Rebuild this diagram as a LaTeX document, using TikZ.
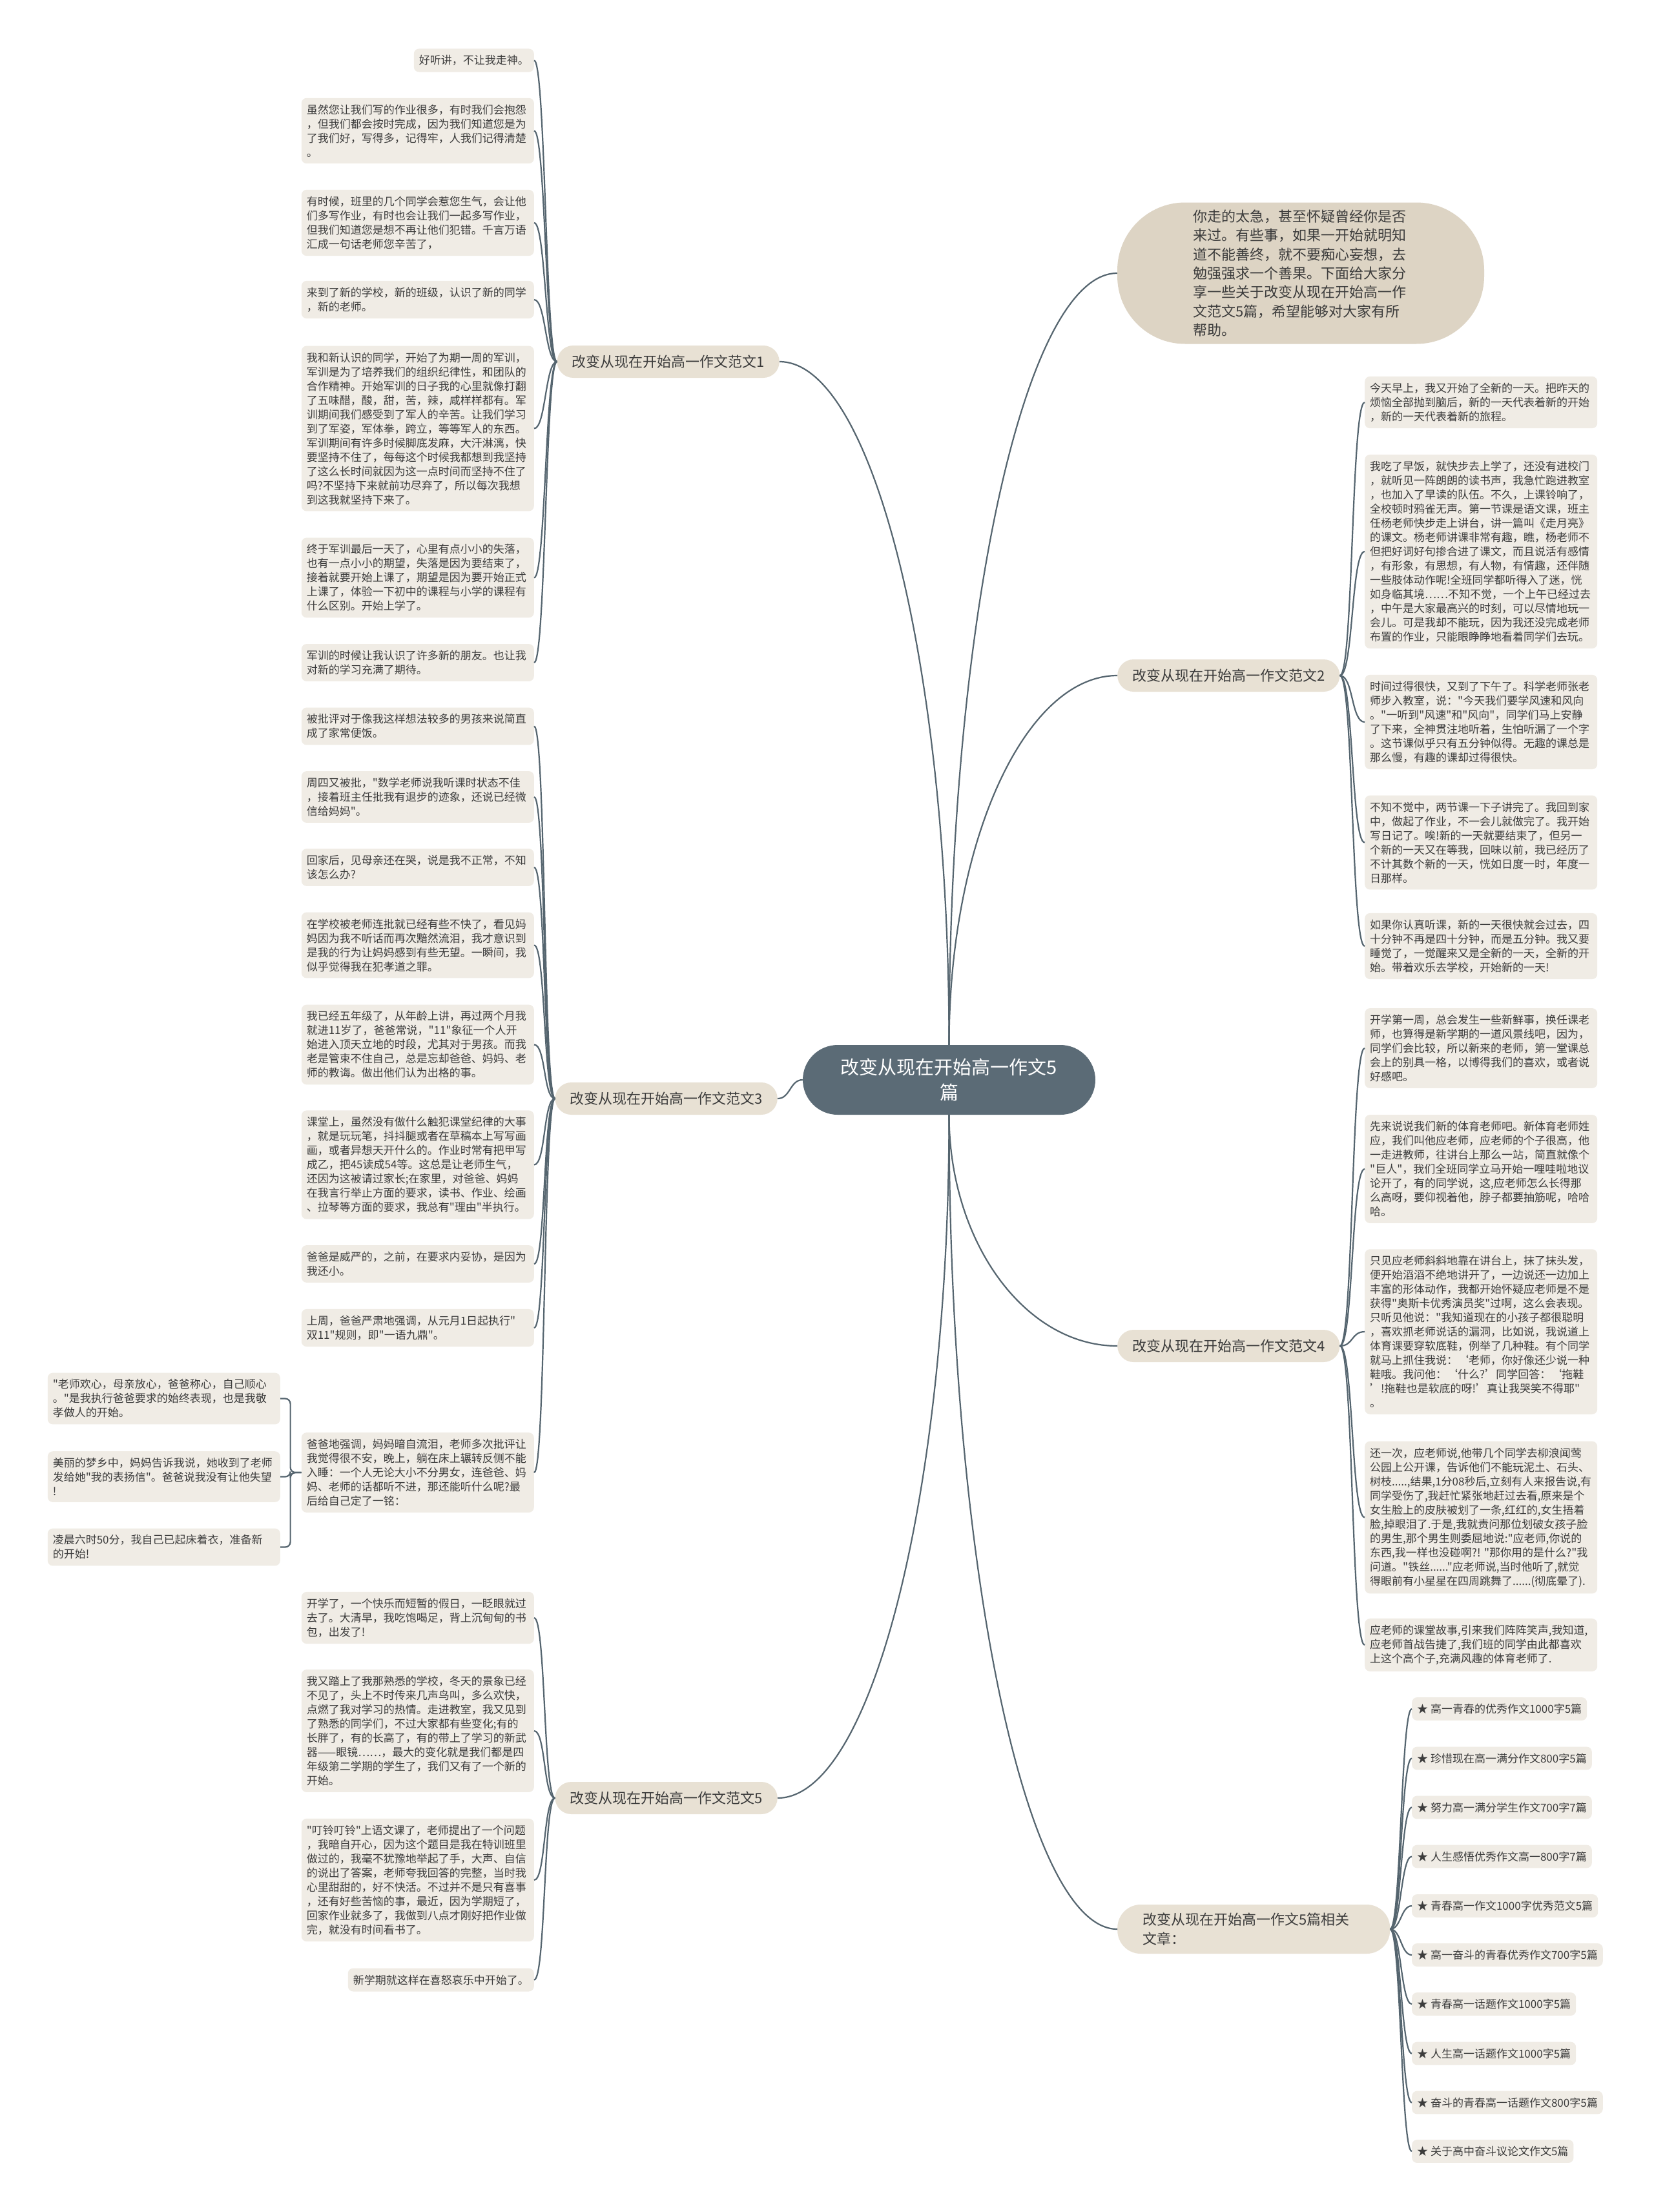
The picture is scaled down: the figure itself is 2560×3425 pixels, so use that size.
\documentclass[tikz,border=0pt]{standalone}
\usepackage{fontspec}
\setmainfont{Noto Sans CJK SC}[Ligatures=TeXOff]
\definecolor{linkgray}{HTML}{55656F}
\definecolor{rootfill}{HTML}{5B6B76}
\definecolor{topicfill}{HTML}{E8E1D4}
\definecolor{introfill}{HTML}{DDD4C4}
\definecolor{leaffill}{HTML}{F0ECE5}
\definecolor{inktext}{HTML}{3C3C3C}
\tikzset{
  link/.style={draw=linkgray, line width=2.2pt},
  twig/.style={link, rounded corners=8pt},
  leafbase/.style={fill=leaffill, rounded corners=8pt, inner xsep=8pt, inner ysep=10pt,
    text=inktext, align=left, font=\fontsize{17}{22}\selectfont},
  leaf/.style={leafbase, text width=344pt},
  tag/.style={leafbase},
  topic/.style={fill=topicfill, rounded corners=25pt, minimum height=50pt, inner xsep=23pt,
    text=inktext, font=\fontsize{22}{30}\selectfont},
  root/.style={fill=rootfill, rounded corners=54pt, minimum width=453pt, minimum height=108pt,
    align=center, text=white, font=\fontsize{29}{39}\selectfont},
  intro/.style={fill=introfill, rounded corners=105pt, minimum width=568pt, minimum height=219pt,
    text width=334pt, align=left, text=inktext, font=\fontsize{22}{29.4}\selectfont}
}
\begin{document}
\begin{tikzpicture}[x=1pt,y=-1pt]
  \useasboundingbox (0,0) rectangle (2560,3425);
  \fill[white] (0,0) rectangle (2560,3425);

  % root and main topics
  \node[root] (root) at (1469.5,1672) {改变从现在开始高一作文5\\篇};
  \node[intro] (intro) at (2014,423) {你走的太急，甚至怀疑曾经你是否\\来过。有些事，如果一开始就明知\\道不能善终，就不要痴心妄想，去\\勉强强求一个善果。下面给大家分\\享一些关于改变从现在开始高一作\\文范文5篇，希望能够对大家有所\\帮助。};
  \node[topic, anchor=east] (br1) at (1207,560) {改变从现在开始高一作文范文1};
  \node[topic, anchor=west] (br2) at (1730,1046) {改变从现在开始高一作文范文2};
  \node[topic, anchor=east] (br3) at (1204,1701) {改变从现在开始高一作文范文3};
  \node[topic, anchor=west] (br4) at (1730,2084) {改变从现在开始高一作文范文4};
  \node[topic, anchor=east] (br5) at (1204,2784) {改变从现在开始高一作文范文5};
  \node[topic, anchor=west, text width=344pt, align=left, inner xsep=39pt, minimum height=76pt,
    rounded corners=36pt] (br6) at (1730,2987) {改变从现在开始高一作文5篇相关\\文章：};

  \draw[link] (root.north) .. controls +(0,-660) and +(-143,0) .. (intro.west);
  \draw[link] (root.north) .. controls +(0,-580) and +(145,0) .. (br1.east);
  \draw[link] (root.north) .. controls +(0,-315) and +(-143,0) .. (br2.west);
  \draw[link] (root.west) .. controls +(-20,0) and +(20,0) .. (br3.east);
  \draw[link] (root.south) .. controls +(0,197) and +(-143,0) .. (br4.west);
  \draw[link] (root.south) .. controls +(0,580) and +(147,0) .. (br5.east);
  \draw[link] (root.south) .. controls +(0,690) and +(-143,0) .. (br6.west);

  % topic 1
  \node[tag, anchor=east] (b1a) at (827,93.5) {好听讲，不让我走神。};
  \node[leaf, anchor=east] (b1b) at (827,202.5) {虽然您让我们写的作业很多，有时我们会抱怨\\，但我们都会按时完成，因为我们知道您是为\\了我们好，写得多，记得牢，人我们记得清楚\\。};
  \node[leaf, anchor=east] (b1c) at (827,345) {有时候，班里的几个同学会惹您生气，会让他\\们多写作业，有时也会让我们一起多写作业，\\但我们知道您是想不再让他们犯错。千言万语\\汇成一句话老师您辛苦了，};
  \node[leaf, anchor=east] (b1d) at (827,464) {来到了新的学校，新的班级，认识了新的同学\\，新的老师。};
  \node[leaf, anchor=east] (b1e) at (827,663.5) {我和新认识的同学，开始了为期一周的军训，\\军训是为了培养我们的组织纪律性，和团队的\\合作精神。开始军训的日子我的心里就像打翻\\了五味醋，酸，甜，苦，辣，咸样样都有。军\\训期间我们感受到了军人的辛苦。让我们学习\\到了军姿，军体拳，跨立，等等军人的东西。\\军训期间有许多时候脚底发麻，大汗淋漓，快\\要坚持不住了，每每这个时候我都想到我坚持\\了这么长时间就因为这一点时间而坚持不住了\\吗?不坚持下来就前功尽弃了，所以每次我想\\到这我就坚持下来了。};
  \node[leaf, anchor=east] (b1f) at (827,894.5) {终于军训最后一天了，心里有点小小的失落，\\也有一点小小的期望，失落是因为要结束了，\\接着就要开始上课了，期望是因为要开始正式\\上课了，体验一下初中的课程与小学的课程有\\什么区别。开始上学了。};
  \node[leaf, anchor=east] (b1g) at (827,1026) {军训的时候让我认识了许多新的朋友。也让我\\对新的学习充满了期待。};
  \draw[link] (br1.west) .. controls +(-18,0) and +(18,0) .. (b1a.east);
  \draw[link] (br1.west) .. controls +(-18,0) and +(18,0) .. (b1b.east);
  \draw[link] (br1.west) .. controls +(-18,0) and +(18,0) .. (b1c.east);
  \draw[link] (br1.west) .. controls +(-18,0) and +(18,0) .. (b1d.east);
  \draw[link] (br1.west) .. controls +(-18,0) and +(18,0) .. (b1e.east);
  \draw[link] (br1.west) .. controls +(-18,0) and +(18,0) .. (b1f.east);
  \draw[link] (br1.west) .. controls +(-18,0) and +(18,0) .. (b1g.east);

  % topic 3
  \node[leaf, anchor=east] (b3a) at (827,1124.5) {被批评对于像我这样想法较多的男孩来说简直\\成了家常便饭。};
  \node[leaf, anchor=east] (b3b) at (827,1234) {周四又被批，"数学老师说我听课时状态不佳\\，接着班主任批我有退步的迹象，还说已经微\\信给妈妈"。};
  \node[leaf, anchor=east] (b3c) at (827,1343) {回家后，见母亲还在哭，说是我不正常，不知\\该怎么办?};
  \node[leaf, anchor=east] (b3d) at (827,1463.5) {在学校被老师连批就已经有些不快了，看见妈\\妈因为我不听话而再次黯然流泪，我才意识到\\是我的行为让妈妈感到有些无望。一瞬间，我\\似乎觉得我在犯孝道之罪。};
  \node[leaf, anchor=east] (b3e) at (827,1617.5) {我已经五年级了，从年龄上讲，再过两个月我\\就进11岁了，爸爸常说，"11"象征一个人开\\始进入顶天立地的时段，尤其对于男孩。而我\\老是管束不住自己，总是忘却爸爸、妈妈、老\\师的教诲。做出他们认为出格的事。};
  \node[leaf, anchor=east] (b3f) at (827,1803.5) {课堂上，虽然没有做什么触犯课堂纪律的大事\\，就是玩玩笔，抖抖腿或者在草稿本上写写画\\画，或者异想天开什么的。作业时常有把甲写\\成乙，把45读成54等。这总是让老师生气，\\还因为这被请过家长;在家里，对爸爸、妈妈\\在我言行举止方面的要求，读书、作业、绘画\\、拉琴等方面的要求，我总有"理由"半执行。};
  \node[leaf, anchor=east] (b3g) at (827,1957) {爸爸是威严的，之前，在要求内妥协，是因为\\我还小。};
  \node[leaf, anchor=east] (b3h) at (827,2056) {上周，爸爸严肃地强调，从元月1日起执行"\\双11"规则，即"一语九鼎"。};
  \node[leaf, anchor=east] (b3i) at (827,2280) {爸爸地强调，妈妈暗自流泪，老师多次批评让\\我觉得很不安，晚上，躺在床上辗转反侧不能\\入睡：一个人无论大小不分男女，连爸爸、妈\\妈、老师的话都听不进，那还能听什么呢?最\\后给自己定了一铭：};
  \node[leaf, anchor=east] (b3i1) at (434,2165.5) {"老师欢心，母亲放心，爸爸称心，自己顺心\\。"是我执行爸爸要求的始终表现，也是我敬\\孝做人的开始。};
  \node[leaf, anchor=east] (b3i2) at (434,2286.5) {美丽的梦乡中，妈妈告诉我说，她收到了老师\\发给她"我的表扬信"。爸爸说我没有让他失望\\!};
  \node[leaf, anchor=east] (b3i3) at (434,2395.5) {凌晨六时50分，我自己已起床着衣，准备新\\的开始!};
  \draw[link] (br3.west) .. controls +(-18,0) and +(18,0) .. (b3a.east);
  \draw[link] (br3.west) .. controls +(-18,0) and +(18,0) .. (b3b.east);
  \draw[link] (br3.west) .. controls +(-18,0) and +(18,0) .. (b3c.east);
  \draw[link] (br3.west) .. controls +(-18,0) and +(18,0) .. (b3d.east);
  \draw[link] (br3.west) .. controls +(-18,0) and +(18,0) .. (b3e.east);
  \draw[link] (br3.west) .. controls +(-18,0) and +(18,0) .. (b3f.east);
  \draw[link] (br3.west) .. controls +(-18,0) and +(18,0) .. (b3g.east);
  \draw[link] (br3.west) .. controls +(-18,0) and +(18,0) .. (b3h.east);
  \draw[link] (br3.west) .. controls +(-18,0) and +(18,0) .. (b3i.east);
  \draw[twig] (b3i.west) -- ++(-17,0) |- (b3i1.east);
  \draw[twig] (b3i.west) -- ++(-17,0) |- (b3i2.east);
  \draw[twig] (b3i.west) -- ++(-17,0) |- (b3i3.east);

  % topic 5
  \node[leaf, anchor=east] (b5a) at (827,2505) {开学了，一个快乐而短暂的假日，一眨眼就过\\去了。大清早，我吃饱喝足，背上沉甸甸的书\\包，出发了!};
  \node[leaf, anchor=east] (b5b) at (827,2680) {我又踏上了我那熟悉的学校，冬天的景象已经\\不见了，头上不时传来几声鸟叫，多么欢快，\\点燃了我对学习的热情。走进教室，我又见到\\了熟悉的同学们，不过大家都有些变化;有的\\长胖了，有的长高了，有的带上了学习的新武\\器——眼镜……，最大的变化就是我们都是四\\年级第二学期的学生了，我们又有了一个新的\\开始。};
  \node[leaf, anchor=east] (b5c) at (827,2911) {"叮铃叮铃"上语文课了，老师提出了一个问题\\，我暗自开心，因为这个题目是我在特训班里\\做过的，我毫不犹豫地举起了手，大声、自信\\的说出了答案，老师夸我回答的完整，当时我\\心里甜甜的，好不快活。不过并不是只有喜事\\，还有好些苦恼的事，最近，因为学期短了，\\回家作业就多了，我做到八点才刚好把作业做\\完，就没有时间看书了。};
  \node[tag, anchor=east] (b5d) at (827,3065.5) {新学期就这样在喜怒哀乐中开始了。};
  \draw[link] (br5.west) .. controls +(-18,0) and +(18,0) .. (b5a.east);
  \draw[link] (br5.west) .. controls +(-18,0) and +(18,0) .. (b5b.east);
  \draw[link] (br5.west) .. controls +(-18,0) and +(18,0) .. (b5c.east);
  \draw[link] (br5.west) .. controls +(-18,0) and +(18,0) .. (b5d.east);

  % topic 2
  \node[leaf, anchor=west] (b2a) at (2113,623) {今天早上，我又开始了全新的一天。把昨天的\\烦恼全部抛到脑后，新的一天代表着新的开始\\，新的一天代表着新的旅程。};
  \node[leaf, anchor=west] (b2b) at (2113,854) {我吃了早饭，就快步去上学了，还没有进校门\\，就听见一阵朗朗的读书声，我急忙跑进教室\\，也加入了早读的队伍。不久，上课铃响了，\\全校顿时鸦雀无声。第一节课是语文课，班主\\任杨老师快步走上讲台，讲一篇叫《走月亮》\\的课文。杨老师讲课非常有趣，瞧，杨老师不\\但把好词好句掺合进了课文，而且说活有感情\\，有形象，有思想，有人物，有情趣，还伴随\\一些肢体动作呢!全班同学都听得入了迷，恍\\如身临其境……不知不觉，一个上午已经过去\\，中午是大家最高兴的时刻，可以尽情地玩一\\会儿。可是我却不能玩，因为我还没完成老师\\布置的作业，只能眼睁睁地看着同学们去玩。};
  \node[leaf, anchor=west] (b2c) at (2113,1118) {时间过得很快，又到了下午了。科学老师张老\\师步入教室，说："今天我们要学风速和风向\\。"一听到"风速"和"风向"，同学们马上安静\\了下来，全神贯注地听着，生怕听漏了一个字\\。这节课似乎只有五分钟似得。无趣的课总是\\那么慢，有趣的课却过得很快。};
  \node[leaf, anchor=west] (b2d) at (2113,1304.5) {不知不觉中，两节课一下子讲完了。我回到家\\中，做起了作业，不一会儿就做完了。我开始\\写日记了。唉!新的一天就要结束了，但另一\\个新的一天又在等我，回味以前，我已经历了\\不计其数个新的一天，恍如日度一时，年度一\\日那样。};
  \node[leaf, anchor=west] (b2e) at (2113,1465) {如果你认真听课，新的一天很快就会过去，四\\十分钟不再是四十分钟，而是五分钟。我又要\\睡觉了，一觉醒来又是全新的一天，全新的开\\始。带着欢乐去学校，开始新的一天!};
  \draw[link] (br2.east) .. controls +(21,0) and +(-21,0) .. (b2a.west);
  \draw[link] (br2.east) .. controls +(21,0) and +(-21,0) .. (b2b.west);
  \draw[link] (br2.east) .. controls +(21,0) and +(-21,0) .. (b2c.west);
  \draw[link] (br2.east) .. controls +(21,0) and +(-21,0) .. (b2d.west);
  \draw[link] (br2.east) .. controls +(21,0) and +(-21,0) .. (b2e.west);

  % topic 4
  \node[leaf, anchor=west] (b4a) at (2113,1623) {开学第一周，总会发生一些新鲜事，换任课老\\师，也算得是新学期的一道风景线吧，因为，\\同学们会比较，所以新来的老师，第一堂课总\\会上的别具一格，以博得我们的喜欢，或者说\\好感吧。};
  \node[leaf, anchor=west] (b4b) at (2113,1810) {先来说说我们新的体育老师吧。新体育老师姓\\应，我们叫他应老师，应老师的个子很高，他\\一走进教师，往讲台上那么一站，简直就像个\\"巨人"，我们全班同学立马开始一哩哇啦地议\\论开了，有的同学说，这,应老师怎么长得那\\么高呀，要仰视着他，脖子都要抽筋呢，哈哈\\哈。};
  \node[leaf, anchor=west] (b4c) at (2113,2062) {只见应老师斜斜地靠在讲台上，抹了抹头发，\\便开始滔滔不绝地讲开了，一边说还一边加上\\丰富的形体动作，我都开始怀疑应老师是不是\\获得"奥斯卡优秀演员奖"过啊，这么会表现。\\只听见他说："我知道现在的小孩子都很聪明\\，喜欢抓老师说话的漏洞，比如说，我说道上\\体育课要穿软底鞋，例举了几种鞋。有个同学\\就马上抓住我说：‘老师，你好像还少说一种\\鞋哦。我问他：‘什么?’同学回答：‘拖鞋\\’!拖鞋也是软底的呀!’真让我哭笑不得耶"\\。};
  \node[leaf, anchor=west] (b4d) at (2113,2349.5) {还一次，应老师说,他带几个同学去柳浪闻莺\\公园上公开课，告诉他们不能玩泥土、石头、\\树枝.....,结果,1分08秒后,立刻有人来报告说,有\\同学受伤了,我赶忙紧张地赶过去看,原来是个\\女生脸上的皮肤被划了一条,红红的,女生捂着\\脸,掉眼泪了.于是,我就责问那位划破女孩子脸\\的男生,那个男生则委屈地说:"应老师,你说的\\东西,我一样也没碰啊?!~"那你用的是什么?"我\\问道。"铁丝......"应老师说,当时他听了,就觉\\得眼前有小星星在四周跳舞了......(彻底晕了).};
  \node[leaf, anchor=west] (b4e) at (2113,2547) {应老师的课堂故事,引来我们阵阵笑声,我知道,\\应老师首战告捷了,我们班的同学由此都喜欢\\上这个高个子,充满风趣的体育老师了.};
  \draw[link] (br4.east) .. controls +(21,0) and +(-21,0) .. (b4a.west);
  \draw[link] (br4.east) .. controls +(21,0) and +(-21,0) .. (b4b.west);
  \draw[link] (br4.east) .. controls +(21,0) and +(-21,0) .. (b4c.west);
  \draw[link] (br4.east) .. controls +(21,0) and +(-21,0) .. (b4d.west);
  \draw[link] (br4.east) .. controls +(21,0) and +(-21,0) .. (b4e.west);

  % related articles
  \node[tag, anchor=west] (a1) at (2186,2646) {★ 高一青春的优秀作文1000字5篇};
  \node[tag, anchor=west] (a2) at (2186,2722.5) {★ 珍惜现在高一满分作文800字5篇};
  \node[tag, anchor=west] (a3) at (2186,2798.5) {★ 努力高一满分学生作文700字7篇};
  \node[tag, anchor=west] (a4) at (2186,2874.5) {★ 人生感悟优秀作文高一800字7篇};
  \node[tag, anchor=west] (a5) at (2186,2951) {★ 青春高一作文1000字优秀范文5篇};
  \node[tag, anchor=west] (a6) at (2186,3027) {★ 高一奋斗的青春优秀作文700字5篇};
  \node[tag, anchor=west] (a7) at (2186,3103) {★ 青春高一话题作文1000字5篇};
  \node[tag, anchor=west] (a8) at (2186,3179.5) {★ 人生高一话题作文1000字5篇};
  \node[tag, anchor=west] (a9) at (2186,3255.5) {★ 奋斗的青春高一话题作文800字5篇};
  \node[tag, anchor=west] (a10) at (2186,3331) {★ 关于高中奋斗议论文作文5篇};
  \draw[link] (br6.east) .. controls +(17,0) and +(-17,0) .. (a1.west);
  \draw[link] (br6.east) .. controls +(17,0) and +(-17,0) .. (a2.west);
  \draw[link] (br6.east) .. controls +(17,0) and +(-17,0) .. (a3.west);
  \draw[link] (br6.east) .. controls +(17,0) and +(-17,0) .. (a4.west);
  \draw[link] (br6.east) .. controls +(17,0) and +(-17,0) .. (a5.west);
  \draw[link] (br6.east) .. controls +(17,0) and +(-17,0) .. (a6.west);
  \draw[link] (br6.east) .. controls +(17,0) and +(-17,0) .. (a7.west);
  \draw[link] (br6.east) .. controls +(17,0) and +(-17,0) .. (a8.west);
  \draw[link] (br6.east) .. controls +(17,0) and +(-17,0) .. (a9.west);
  \draw[link] (br6.east) .. controls +(17,0) and +(-17,0) .. (a10.west);
\end{tikzpicture}
\end{document}
